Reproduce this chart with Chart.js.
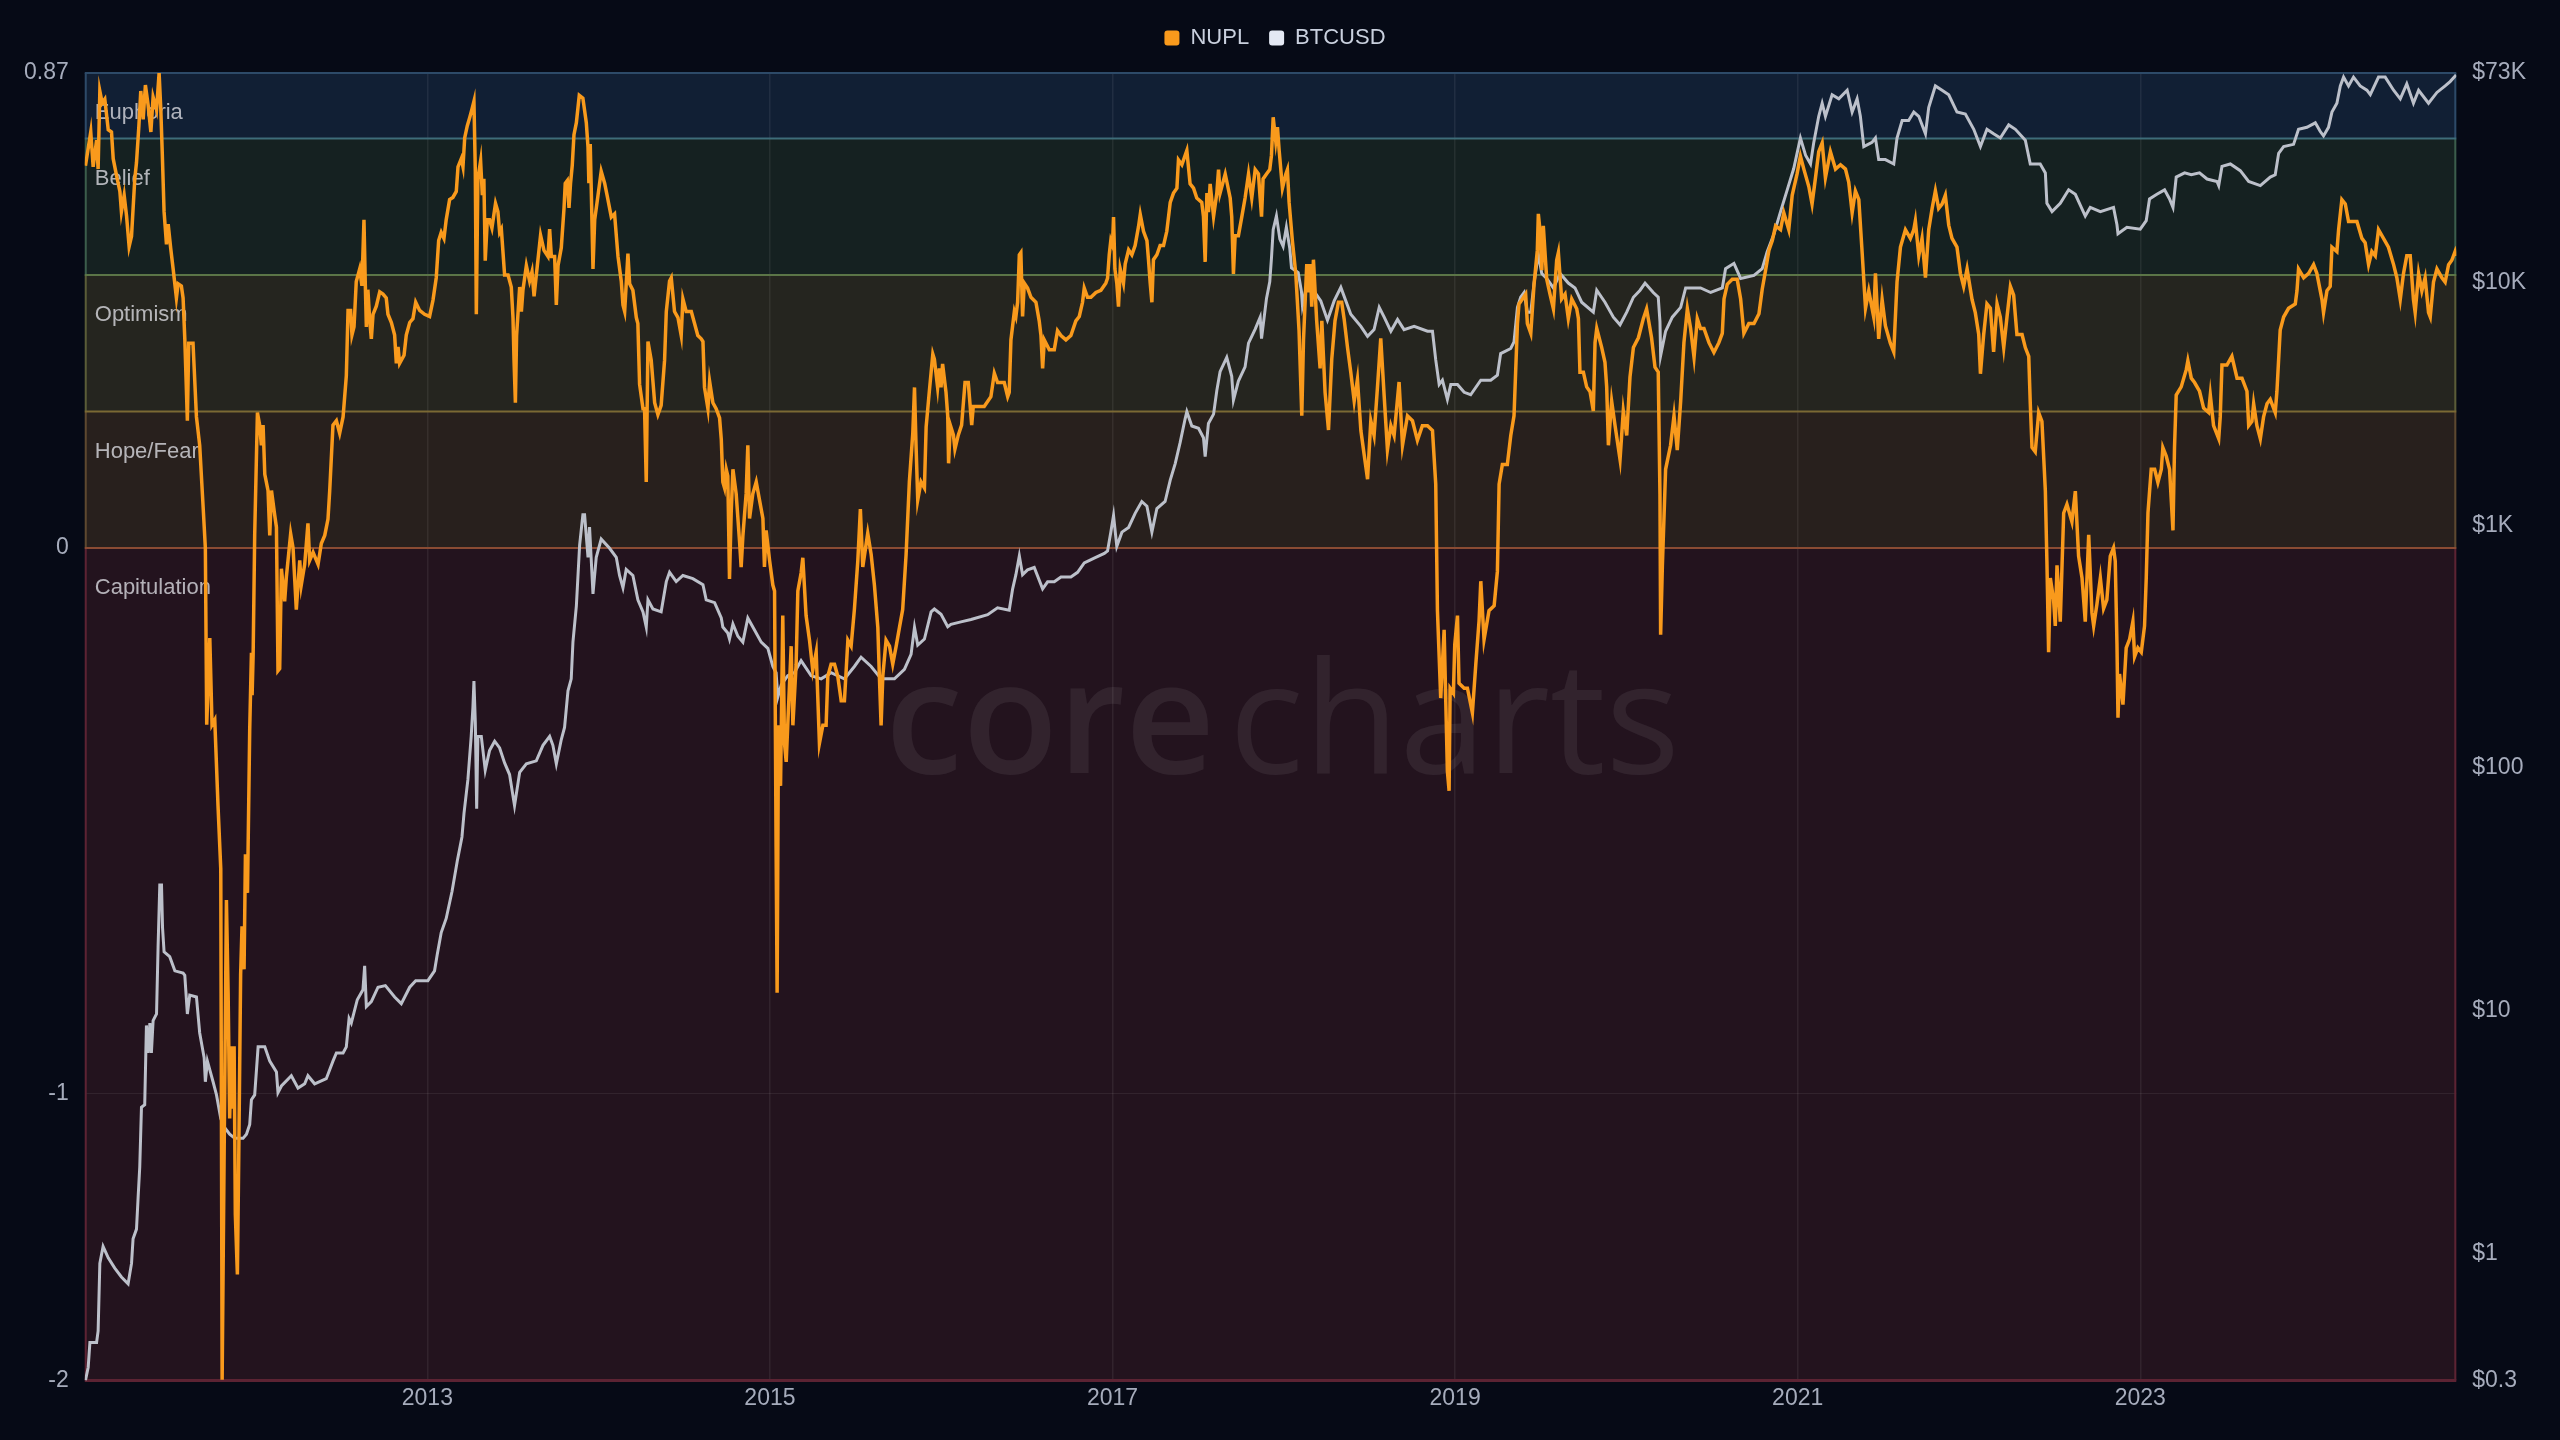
<!DOCTYPE html>
<html>
<head>
<meta charset="utf-8">
<title>NUPL vs BTCUSD</title>
<script src="https://cdn.jsdelivr.net/npm/chart.js@4.4.1/dist/chart.umd.min.js"></script>
<style>
  html, body { margin: 0; padding: 0; background: #060a16; }
  #wrap { width: 2560px; height: 1440px; }
</style>
</head>
<body>
<div id="wrap"><canvas id="nuplChart" width="2560" height="1440"></canvas></div>
<script>
// dates are decimal years
const nuplYears = [
  2011.004, 2011.035, 2011.049, 2011.069, 2011.078, 2011.088, 2011.102, 2011.117, 2011.137, 2011.156,
  2011.166, 2011.185, 2011.205, 2011.214, 2011.230, 2011.244, 2011.259, 2011.273, 2011.292, 2011.302,
  2011.316, 2011.327, 2011.341, 2011.354, 2011.370, 2011.386, 2011.399, 2011.419, 2011.434, 2011.444,
  2011.452, 2011.463, 2011.477, 2011.487, 2011.502, 2011.516, 2011.535, 2011.545, 2011.564, 2011.574,
  2011.584, 2011.599, 2011.607, 2011.632, 2011.652, 2011.671, 2011.691, 2011.704, 2011.712, 2011.730,
  2011.743, 2011.759, 2011.778, 2011.794, 2011.802, 2011.813, 2011.827, 2011.837, 2011.846, 2011.856,
  2011.866, 2011.872, 2011.879, 2011.891, 2011.899, 2011.910, 2011.918, 2011.930, 2011.938, 2011.950,
  2011.963, 2011.973, 2011.977, 2011.983, 2011.992, 2012.008, 2012.021, 2012.031, 2012.041, 2012.051,
  2012.070, 2012.080, 2012.090, 2012.109, 2012.119, 2012.128, 2012.138, 2012.148, 2012.167, 2012.177,
  2012.202, 2012.216, 2012.235, 2012.255, 2012.264, 2012.284, 2012.303, 2012.313, 2012.333, 2012.362,
  2012.381, 2012.401, 2012.420, 2012.430, 2012.449, 2012.469, 2012.488, 2012.508, 2012.527, 2012.537,
  2012.552, 2012.560, 2012.572, 2012.585, 2012.605, 2012.618, 2012.630, 2012.638, 2012.644, 2012.653,
  2012.663, 2012.673, 2012.683, 2012.702, 2012.722, 2012.741, 2012.760, 2012.770, 2012.790, 2012.809,
  2012.819, 2012.829, 2012.838, 2012.864, 2012.877, 2012.897, 2012.916, 2012.932, 2012.955, 2012.984,
  2013.013, 2013.033, 2013.052, 2013.066, 2013.081, 2013.097, 2013.110, 2013.130, 2013.149, 2013.169,
  2013.179, 2013.198, 2013.208, 2013.218, 2013.233, 2013.247, 2013.260, 2013.272, 2013.280, 2013.286,
  2013.295, 2013.311, 2013.321, 2013.330, 2013.338, 2013.350, 2013.363, 2013.377, 2013.398, 2013.412,
  2013.422, 2013.432, 2013.451, 2013.471, 2013.490, 2013.500, 2013.506, 2013.514, 2013.521, 2013.539,
  2013.549, 2013.558, 2013.578, 2013.597, 2013.611, 2013.623, 2013.642, 2013.661, 2013.681, 2013.704,
  2013.714, 2013.724, 2013.743, 2013.753, 2013.763, 2013.782, 2013.798, 2013.805, 2013.817, 2013.827,
  2013.836, 2013.846, 2013.856, 2013.870, 2013.887, 2013.908, 2013.928, 2013.938, 2013.943, 2013.951,
  2013.957, 2013.967, 2013.977, 2013.996, 2014.015, 2014.035, 2014.050, 2014.074, 2014.093, 2014.113,
  2014.132, 2014.142, 2014.152, 2014.171, 2014.181, 2014.200, 2014.220, 2014.229, 2014.239, 2014.259,
  2014.268, 2014.278, 2014.288, 2014.307, 2014.327, 2014.346, 2014.365, 2014.385, 2014.395, 2014.414,
  2014.424, 2014.443, 2014.463, 2014.482, 2014.492, 2014.511, 2014.541, 2014.560, 2014.579, 2014.599,
  2014.609, 2014.618, 2014.638, 2014.648, 2014.667, 2014.686, 2014.706, 2014.716, 2014.725, 2014.735,
  2014.745, 2014.754, 2014.764, 2014.774, 2014.784, 2014.803, 2014.823, 2014.832, 2014.842, 2014.861,
  2014.871, 2014.881, 2014.900, 2014.920, 2014.939, 2014.959, 2014.968, 2014.978, 2014.998, 2015.017,
  2015.027, 2015.036, 2015.042, 2015.050, 2015.062, 2015.075, 2015.085, 2015.095, 2015.104, 2015.124,
  2015.134, 2015.153, 2015.163, 2015.182, 2015.192, 2015.211, 2015.231, 2015.250, 2015.270, 2015.289,
  2015.309, 2015.328, 2015.338, 2015.357, 2015.377, 2015.396, 2015.416, 2015.435, 2015.455, 2015.474,
  2015.493, 2015.513, 2015.528, 2015.542, 2015.571, 2015.591, 2015.610, 2015.630, 2015.639, 2015.649,
  2015.659, 2015.678, 2015.698, 2015.717, 2015.737, 2015.756, 2015.775, 2015.795, 2015.814, 2015.834,
  2015.844, 2015.853, 2015.863, 2015.882, 2015.902, 2015.912, 2015.931, 2015.951, 2015.960, 2015.979,
  2015.989, 2015.999, 2016.008, 2016.028, 2016.038, 2016.043, 2016.053, 2016.071, 2016.080, 2016.100,
  2016.119, 2016.139, 2016.158, 2016.178, 2016.187, 2016.213, 2016.251, 2016.290, 2016.310, 2016.329,
  2016.368, 2016.388, 2016.397, 2016.407, 2016.427, 2016.436, 2016.446, 2016.456, 2016.465, 2016.475,
  2016.485, 2016.504, 2016.524, 2016.553, 2016.572, 2016.582, 2016.592, 2016.602, 2016.631, 2016.660,
  2016.679, 2016.699, 2016.728, 2016.757, 2016.786, 2016.806, 2016.825, 2016.835, 2016.854, 2016.874,
  2016.903, 2016.932, 2016.961, 2016.971, 2016.981, 2016.990, 2017.000, 2017.006, 2017.014, 2017.025,
  2017.035, 2017.045, 2017.064, 2017.074, 2017.094, 2017.113, 2017.132, 2017.152, 2017.162, 2017.181,
  2017.201, 2017.210, 2017.220, 2017.230, 2017.239, 2017.259, 2017.278, 2017.298, 2017.317, 2017.337,
  2017.356, 2017.376, 2017.385, 2017.405, 2017.424, 2017.434, 2017.453, 2017.473, 2017.492, 2017.521,
  2017.531, 2017.541, 2017.551, 2017.560, 2017.570, 2017.590, 2017.609, 2017.619, 2017.628, 2017.658,
  2017.687, 2017.696, 2017.706, 2017.716, 2017.735, 2017.755, 2017.774, 2017.794, 2017.813, 2017.833,
  2017.852, 2017.862, 2017.870, 2017.879, 2017.899, 2017.918, 2017.928, 2017.938, 2017.953, 2017.963,
  2017.973, 2017.992, 2018.012, 2018.021, 2018.031, 2018.050, 2018.070, 2018.089, 2018.105, 2018.115,
  2018.134, 2018.144, 2018.154, 2018.163, 2018.173, 2018.192, 2018.212, 2018.222, 2018.241, 2018.261,
  2018.280, 2018.299, 2018.319, 2018.338, 2018.352, 2018.372, 2018.391, 2018.411, 2018.430, 2018.450,
  2018.469, 2018.489, 2018.508, 2018.527, 2018.547, 2018.566, 2018.586, 2018.605, 2018.625, 2018.644,
  2018.673, 2018.693, 2018.722, 2018.751, 2018.780, 2018.809, 2018.839, 2018.868, 2018.887, 2018.897,
  2018.916, 2018.936, 2018.955, 2018.965, 2018.971, 2018.990, 2018.998, 2019.014, 2019.023, 2019.053,
  2019.072, 2019.101, 2019.121, 2019.140, 2019.150, 2019.169, 2019.198, 2019.228, 2019.247, 2019.257,
  2019.276, 2019.305, 2019.325, 2019.344, 2019.364, 2019.373, 2019.393, 2019.412, 2019.422, 2019.442,
  2019.461, 2019.480, 2019.486, 2019.496, 2019.506, 2019.515, 2019.535, 2019.554, 2019.574, 2019.593,
  2019.603, 2019.622, 2019.642, 2019.661, 2019.681, 2019.710, 2019.720, 2019.729, 2019.749, 2019.768,
  2019.788, 2019.807, 2019.817, 2019.827, 2019.856, 2019.875, 2019.885, 2019.895, 2019.914, 2019.934,
  2019.963, 2019.982, 2020.002, 2020.021, 2020.041, 2020.070, 2020.099, 2020.118, 2020.147, 2020.167,
  2020.186, 2020.196, 2020.200, 2020.210, 2020.229, 2020.258, 2020.278, 2020.297, 2020.317, 2020.336,
  2020.356, 2020.375, 2020.395, 2020.414, 2020.433, 2020.453, 2020.482, 2020.511, 2020.540, 2020.560,
  2020.570, 2020.589, 2020.618, 2020.647, 2020.667, 2020.686, 2020.715, 2020.745, 2020.774, 2020.793,
  2020.813, 2020.832, 2020.852, 2020.871, 2020.900, 2020.919, 2020.948, 2020.968, 2020.997, 2021.016,
  2021.036, 2021.065, 2021.084, 2021.104, 2021.123, 2021.143, 2021.162, 2021.191, 2021.221, 2021.250,
  2021.279, 2021.298, 2021.318, 2021.337, 2021.357, 2021.376, 2021.396, 2021.415, 2021.444, 2021.454,
  2021.473, 2021.493, 2021.512, 2021.541, 2021.561, 2021.580, 2021.600, 2021.629, 2021.658, 2021.678,
  2021.687, 2021.707, 2021.726, 2021.746, 2021.765, 2021.785, 2021.804, 2021.823, 2021.843, 2021.862,
  2021.882, 2021.901, 2021.930, 2021.950, 2021.969, 2021.989, 2022.018, 2022.037, 2022.057, 2022.067,
  2022.086, 2022.105, 2022.125, 2022.144, 2022.164, 2022.183, 2022.203, 2022.222, 2022.242, 2022.261,
  2022.280, 2022.310, 2022.329, 2022.349, 2022.358, 2022.368, 2022.387, 2022.407, 2022.426, 2022.446,
  2022.455, 2022.465, 2022.475, 2022.494, 2022.504, 2022.514, 2022.533, 2022.553, 2022.572, 2022.601,
  2022.621, 2022.640, 2022.660, 2022.679, 2022.699, 2022.718, 2022.728, 2022.747, 2022.767, 2022.786,
  2022.805, 2022.825, 2022.844, 2022.854, 2022.864, 2022.870, 2022.879, 2022.899, 2022.918, 2022.938,
  2022.957, 2022.967, 2022.986, 2023.006, 2023.025, 2023.035, 2023.045, 2023.064, 2023.084, 2023.103,
  2023.123, 2023.132, 2023.152, 2023.171, 2023.191, 2023.200, 2023.210, 2023.239, 2023.269, 2023.278,
  2023.298, 2023.317, 2023.346, 2023.370, 2023.399, 2023.409, 2023.428, 2023.458, 2023.467, 2023.477,
  2023.506, 2023.535, 2023.565, 2023.594, 2023.623, 2023.633, 2023.652, 2023.662, 2023.681, 2023.701,
  2023.720, 2023.740, 2023.759, 2023.788, 2023.798, 2023.817, 2023.837, 2023.866, 2023.905, 2023.915,
  2023.924, 2023.954, 2023.983, 2024.012, 2024.031, 2024.061, 2024.070, 2024.090, 2024.109, 2024.119,
  2024.148, 2024.158, 2024.177, 2024.197, 2024.216, 2024.236, 2024.265, 2024.294, 2024.313, 2024.333,
  2024.352, 2024.372, 2024.391, 2024.420, 2024.449, 2024.479, 2024.498, 2024.518, 2024.537, 2024.556,
  2024.576, 2024.595, 2024.605, 2024.625, 2024.644, 2024.663, 2024.683, 2024.693, 2024.712, 2024.732,
  2024.761, 2024.780, 2024.800, 2024.819, 2024.838, 2024.844
];
const nuplValues = [
  0.700, 0.762, 0.698, 0.747, 0.694, 0.837, 0.815, 0.822, 0.766, 0.762,
  0.713, 0.683, 0.653, 0.616, 0.646, 0.608, 0.552, 0.571, 0.676, 0.706,
  0.773, 0.837, 0.785, 0.848, 0.811, 0.762, 0.826, 0.803, 0.870, 0.803,
  0.728, 0.616, 0.556, 0.593, 0.548, 0.511, 0.458, 0.484, 0.480, 0.458,
  0.383, 0.233, 0.375, 0.375, 0.240, 0.188, 0.075, 0.000, -0.324, -0.165,
  -0.324, -0.315, -0.473, -0.588, -1.998, -1.253, -0.645, -0.816, -1.086, -0.913,
  -1.052, -0.913, -1.421, -1.630, -1.220, -0.781, -0.693, -0.772, -0.561, -0.632,
  -0.332, -0.192, -0.270, -0.195, 0.023, 0.248, 0.225, 0.188, 0.225, 0.135,
  0.105, 0.023, 0.105, 0.060, 0.038, -0.225, -0.221, -0.038, -0.098, -0.053,
  0.026, 0.000, -0.113, -0.023, -0.068, -0.030, 0.045, -0.023, -0.008, -0.030,
  0.008, 0.023, 0.053, 0.105, 0.225, 0.233, 0.210, 0.240, 0.315, 0.435,
  0.435, 0.390, 0.405, 0.488, 0.511, 0.480, 0.601, 0.480, 0.405, 0.473,
  0.420, 0.383, 0.428, 0.443, 0.469, 0.465, 0.458, 0.428, 0.413, 0.390,
  0.338, 0.368, 0.338, 0.353, 0.390, 0.413, 0.420, 0.450, 0.435, 0.428,
  0.424, 0.454, 0.495, 0.563, 0.578, 0.567, 0.601, 0.638, 0.642, 0.653,
  0.698, 0.713, 0.698, 0.751, 0.773, 0.788, 0.803, 0.818, 0.691, 0.428,
  0.676, 0.709, 0.646, 0.676, 0.526, 0.601, 0.601, 0.586, 0.631, 0.616,
  0.578, 0.584, 0.500, 0.500, 0.478, 0.422, 0.344, 0.266, 0.389, 0.478,
  0.433, 0.472, 0.517, 0.489, 0.506, 0.461, 0.517, 0.573, 0.545, 0.534,
  0.584, 0.534, 0.534, 0.445, 0.517, 0.550, 0.623, 0.668, 0.673, 0.623,
  0.668, 0.701, 0.757, 0.779, 0.829, 0.824, 0.779, 0.734, 0.668, 0.740,
  0.656, 0.511, 0.601, 0.645, 0.690, 0.668, 0.645, 0.606, 0.612, 0.534,
  0.489, 0.445, 0.433, 0.539, 0.484, 0.472, 0.422, 0.411, 0.300, 0.255,
  0.255, 0.121, 0.378, 0.344, 0.266, 0.244, 0.261, 0.344, 0.433, 0.489,
  0.495, 0.433, 0.422, 0.389, 0.456, 0.433, 0.433, 0.411, 0.389, 0.383,
  0.378, 0.294, 0.255, 0.305, 0.266, 0.255, 0.238, 0.199, 0.121, 0.110,
  0.144, 0.132, -0.057, 0.066, 0.144, 0.099, 0.010, -0.035, 0.021, 0.099,
  0.188, 0.054, 0.099, 0.121, 0.088, 0.054, -0.035, 0.032, -0.023, -0.068,
  -0.079, -0.548, -0.815, -0.325, -0.436, -0.124, -0.358, -0.392, -0.325, -0.180,
  -0.325, -0.213, -0.079, -0.046, -0.018, -0.124, -0.169, -0.224, -0.191, -0.358,
  -0.325, -0.325, -0.235, -0.213, -0.213, -0.235, -0.280, -0.280, -0.169, -0.180,
  -0.113, -0.024, 0.071, -0.035, 0.027, -0.012, -0.068, -0.146, -0.235, -0.325,
  -0.235, -0.169, -0.180, -0.213, -0.180, -0.146, -0.113, -0.012, 0.121, 0.210,
  0.294, 0.188, 0.088, 0.121, 0.110, 0.222, 0.288, 0.355, 0.346, 0.294,
  0.329, 0.294, 0.337, 0.285, 0.242, 0.155, 0.225, 0.207, 0.181, 0.207,
  0.225, 0.303, 0.303, 0.225, 0.259, 0.259, 0.259, 0.277, 0.320, 0.303,
  0.303, 0.277, 0.285, 0.381, 0.433, 0.424, 0.450, 0.537, 0.541, 0.424,
  0.485, 0.476, 0.459, 0.450, 0.416, 0.390, 0.329, 0.381, 0.363, 0.363,
  0.398, 0.389, 0.381, 0.389, 0.416, 0.424, 0.450, 0.476, 0.459, 0.459,
  0.468, 0.472, 0.485, 0.494, 0.537, 0.563, 0.554, 0.606, 0.511, 0.485,
  0.442, 0.511, 0.485, 0.520, 0.546, 0.537, 0.554, 0.589, 0.611, 0.580,
  0.563, 0.528, 0.485, 0.450, 0.528, 0.537, 0.554, 0.554, 0.580, 0.633,
  0.650, 0.659, 0.711, 0.702, 0.719, 0.728, 0.667, 0.659, 0.641, 0.633,
  0.607, 0.524, 0.650, 0.615, 0.667, 0.607, 0.650, 0.693, 0.650, 0.685,
  0.641, 0.607, 0.502, 0.572, 0.572, 0.607, 0.641, 0.685, 0.641, 0.693,
  0.685, 0.641, 0.607, 0.676, 0.685, 0.693, 0.719, 0.789, 0.745, 0.771,
  0.728, 0.659, 0.685, 0.693, 0.633, 0.563, 0.502, 0.398, 0.242, 0.381,
  0.520, 0.468, 0.520, 0.442, 0.528, 0.416, 0.329, 0.416, 0.285, 0.216,
  0.346, 0.416, 0.450, 0.450, 0.420, 0.367, 0.322, 0.269, 0.309, 0.215,
  0.171, 0.126, 0.233, 0.206, 0.295, 0.384, 0.278, 0.180, 0.224, 0.206,
  0.304, 0.188, 0.242, 0.233, 0.197, 0.224, 0.224, 0.215, 0.117, -0.115,
  -0.275, -0.150, -0.409, -0.445, -0.257, -0.266, -0.177, -0.124, -0.248, -0.257,
  -0.257, -0.302, -0.213, -0.133, -0.061, -0.168, -0.115, -0.106, -0.043, 0.117,
  0.153, 0.153, 0.206, 0.242, 0.411, 0.447, 0.456, 0.465, 0.411, 0.393,
  0.483, 0.545, 0.612, 0.581, 0.509, 0.590, 0.492, 0.465, 0.438, 0.527,
  0.541, 0.456, 0.465, 0.420, 0.456, 0.438, 0.420, 0.322, 0.322, 0.295,
  0.286, 0.251, 0.376, 0.402, 0.367, 0.340, 0.295, 0.188, 0.269, 0.224,
  0.162, 0.251, 0.206, 0.313, 0.367, 0.385, 0.420, 0.438, 0.385, 0.331,
  0.322, 0.099, -0.159, -0.034, 0.144, 0.188, 0.242, 0.179, 0.269, 0.376,
  0.438, 0.402, 0.349, 0.420, 0.402, 0.402, 0.376, 0.358, 0.376, 0.393,
  0.456, 0.483, 0.492, 0.492, 0.456, 0.393, 0.411, 0.411, 0.429, 0.474,
  0.509, 0.545, 0.563, 0.590, 0.583, 0.614, 0.583, 0.646, 0.686, 0.718,
  0.694, 0.662, 0.630, 0.678, 0.726, 0.742, 0.678, 0.726, 0.694, 0.702,
  0.694, 0.670, 0.614, 0.654, 0.638, 0.543, 0.439, 0.471, 0.423, 0.503,
  0.383, 0.455, 0.407, 0.375, 0.359, 0.487, 0.551, 0.583, 0.567, 0.583,
  0.599, 0.535, 0.567, 0.495, 0.583, 0.622, 0.654, 0.622, 0.630, 0.646,
  0.591, 0.567, 0.551, 0.503, 0.479, 0.511, 0.455, 0.431, 0.391, 0.319,
  0.391, 0.447, 0.439, 0.359, 0.447, 0.423, 0.367, 0.423, 0.479, 0.463,
  0.391, 0.391, 0.367, 0.351, 0.264, 0.184, 0.176, 0.248, 0.232, 0.104,
  -0.024, -0.191, -0.055, -0.095, -0.143, -0.032, -0.135, 0.064, 0.080, 0.048,
  0.104, -0.015, -0.055, -0.135, 0.024, -0.119, -0.143, -0.103, -0.055, -0.111,
  -0.095, -0.015, 0.000, -0.024, -0.175, -0.311, -0.231, -0.287, -0.183, -0.167,
  -0.135, -0.199, -0.183, -0.191, -0.143, -0.055, 0.064, 0.144, 0.144, 0.120,
  0.144, 0.184, 0.168, 0.144, 0.032, 0.184, 0.280, 0.295, 0.327, 0.343,
  0.311, 0.303, 0.287, 0.256, 0.248, 0.280, 0.224, 0.200, 0.240, 0.335,
  0.335, 0.351, 0.311, 0.311, 0.287, 0.224, 0.232, 0.264, 0.224, 0.200,
  0.240, 0.264, 0.272, 0.248, 0.287, 0.399, 0.423, 0.439, 0.447, 0.471,
  0.511, 0.495, 0.503, 0.519, 0.503, 0.455, 0.431, 0.471, 0.479, 0.551,
  0.543, 0.583, 0.638, 0.630, 0.598, 0.598, 0.598, 0.567, 0.559, 0.519,
  0.543, 0.535, 0.583, 0.567, 0.551, 0.519, 0.495, 0.455, 0.503, 0.535,
  0.535, 0.455, 0.431, 0.503, 0.471, 0.495, 0.431, 0.423, 0.487, 0.511,
  0.495, 0.487, 0.519, 0.527, 0.543, 0.535
];

const btcYears = [
  2011.004, 2011.020, 2011.030, 2011.069, 2011.078, 2011.088, 2011.107, 2011.137, 2011.175, 2011.214,
  2011.253, 2011.273, 2011.282, 2011.302, 2011.312, 2011.321, 2011.331, 2011.350, 2011.360, 2011.370,
  2011.380, 2011.389, 2011.399, 2011.419, 2011.428, 2011.438, 2011.448, 2011.454, 2011.463, 2011.496,
  2011.526, 2011.574, 2011.584, 2011.599, 2011.613, 2011.652, 2011.671, 2011.697, 2011.704, 2011.716,
  2011.749, 2011.769, 2011.794, 2011.817, 2011.846, 2011.876, 2011.924, 2011.944, 2011.963, 2011.973,
  2011.992, 2012.012, 2012.051, 2012.080, 2012.119, 2012.128, 2012.148, 2012.206, 2012.245, 2012.284,
  2012.303, 2012.342, 2012.410, 2012.449, 2012.469, 2012.508, 2012.527, 2012.543, 2012.556, 2012.591,
  2012.624, 2012.634, 2012.644, 2012.673, 2012.712, 2012.755, 2012.809, 2012.848, 2012.897, 2012.932,
  2013.003, 2013.042, 2013.058, 2013.081, 2013.110, 2013.144, 2013.175, 2013.202, 2013.214, 2013.237,
  2013.256, 2013.266, 2013.272, 2013.280, 2013.288, 2013.295, 2013.315, 2013.338, 2013.363, 2013.393,
  2013.422, 2013.451, 2013.480, 2013.509, 2013.539, 2013.578, 2013.636, 2013.675, 2013.714, 2013.733,
  2013.753, 2013.782, 2013.801, 2013.821, 2013.840, 2013.850, 2013.870, 2013.889, 2013.908, 2013.918,
  2013.938, 2013.947, 2013.967, 2013.986, 2014.015, 2014.064, 2014.103, 2014.122, 2014.142, 2014.161,
  2014.200, 2014.229, 2014.259, 2014.278, 2014.288, 2014.317, 2014.365, 2014.395, 2014.414, 2014.453,
  2014.492, 2014.550, 2014.609, 2014.628, 2014.677, 2014.716, 2014.725, 2014.754, 2014.764, 2014.784,
  2014.813, 2014.842, 2014.871, 2014.910, 2014.949, 2014.988, 2015.017, 2015.036, 2015.046, 2015.066,
  2015.104, 2015.143, 2015.182, 2015.241, 2015.299, 2015.357, 2015.435, 2015.493, 2015.532, 2015.591,
  2015.649, 2015.727, 2015.785, 2015.824, 2015.844, 2015.863, 2015.902, 2015.941, 2015.960, 2015.999,
  2016.038, 2016.057, 2016.115, 2016.174, 2016.271, 2016.329, 2016.397, 2016.417, 2016.436, 2016.456,
  2016.475, 2016.504, 2016.543, 2016.592, 2016.621, 2016.660, 2016.699, 2016.757, 2016.796, 2016.835,
  2016.893, 2016.952, 2016.971, 2016.990, 2017.006, 2017.025, 2017.055, 2017.094, 2017.132, 2017.171,
  2017.201, 2017.230, 2017.259, 2017.307, 2017.337, 2017.366, 2017.395, 2017.424, 2017.434, 2017.463,
  2017.502, 2017.531, 2017.541, 2017.560, 2017.590, 2017.609, 2017.628, 2017.667, 2017.696, 2017.706,
  2017.735, 2017.774, 2017.794, 2017.833, 2017.862, 2017.870, 2017.899, 2017.918, 2017.928, 2017.938,
  2017.957, 2017.977, 2017.996, 2018.015, 2018.035, 2018.045, 2018.084, 2018.103, 2018.109, 2018.138,
  2018.177, 2018.216, 2018.255, 2018.294, 2018.333, 2018.391, 2018.450, 2018.489, 2018.527, 2018.557,
  2018.586, 2018.625, 2018.664, 2018.702, 2018.761, 2018.839, 2018.868, 2018.887, 2018.907, 2018.926,
  2018.955, 2018.975, 2019.014, 2019.053, 2019.091, 2019.150, 2019.208, 2019.247, 2019.266, 2019.325,
  2019.344, 2019.364, 2019.383, 2019.403, 2019.422, 2019.442, 2019.461, 2019.486, 2019.506, 2019.535,
  2019.574, 2019.613, 2019.661, 2019.700, 2019.739, 2019.807, 2019.827, 2019.875, 2019.924, 2019.963,
  2020.002, 2020.041, 2020.080, 2020.109, 2020.157, 2020.186, 2020.196, 2020.200, 2020.229, 2020.268,
  2020.317, 2020.346, 2020.395, 2020.433, 2020.492, 2020.560, 2020.579, 2020.628, 2020.667, 2020.745,
  2020.793, 2020.822, 2020.861, 2020.900, 2020.939, 2020.977, 2021.016, 2021.046, 2021.075, 2021.094,
  2021.123, 2021.143, 2021.162, 2021.201, 2021.240, 2021.289, 2021.318, 2021.347, 2021.366, 2021.386,
  2021.434, 2021.454, 2021.473, 2021.512, 2021.561, 2021.580, 2021.610, 2021.648, 2021.678, 2021.707,
  2021.746, 2021.765, 2021.804, 2021.843, 2021.882, 2021.930, 2021.979, 2022.028, 2022.067, 2022.105,
  2022.144, 2022.183, 2022.232, 2022.271, 2022.329, 2022.358, 2022.416, 2022.446, 2022.455, 2022.485,
  2022.533, 2022.582, 2022.621, 2022.679, 2022.708, 2022.767, 2022.844, 2022.864, 2022.870, 2022.922,
  2023.000, 2023.035, 2023.054, 2023.097, 2023.142, 2023.171, 2023.191, 2023.210, 2023.259, 2023.298,
  2023.346, 2023.390, 2023.448, 2023.458, 2023.477, 2023.526, 2023.584, 2023.633, 2023.701, 2023.759,
  2023.788, 2023.808, 2023.837, 2023.895, 2023.924, 2023.973, 2024.022, 2024.051, 2024.070, 2024.099,
  2024.119, 2024.148, 2024.168, 2024.187, 2024.216, 2024.245, 2024.284, 2024.323, 2024.343, 2024.391,
  2024.430, 2024.479, 2024.518, 2024.556, 2024.595, 2024.625, 2024.683, 2024.732, 2024.780, 2024.809,
  2024.844
];
const btcPrices = [
  0.30, 0.34, 0.43, 0.43, 0.48, 0.91, 1.07, 0.96, 0.87, 0.80,
  0.75, 0.91, 1.15, 1.26, 1.73, 2.27, 4.0, 4.1, 8.7, 6.7,
  8.9, 6.7, 9.1, 9.7, 18.3, 33, 33, 22, 17.5, 16.7,
  14.6, 14.3, 14.0, 9.7, 11.6, 11.4, 8.1, 6.4, 5.1, 6.2,
  5.1, 4.5, 3.6, 3.3, 3.1, 2.98, 2.98, 3.1, 3.4, 4.3,
  4.5, 7.1, 7.1, 6.2, 5.6, 4.6, 4.9, 5.4, 4.8, 5.0,
  5.4, 5.0, 5.25, 6.2, 6.7, 6.7, 7.1, 9.3, 8.9, 11.1,
  12.2, 15.3, 10.4, 10.9, 12.5, 12.7, 11.4, 10.7, 12.5, 13.3,
  13.3, 14.6, 17.1, 21, 24, 31, 41.5, 52, 65, 90,
  135, 178, 228, 155, 68, 135, 135, 98, 118, 129,
  121, 105, 94, 70, 96, 104, 107, 124, 135, 124,
  104, 131, 147, 208, 233, 330, 466, 828, 1104, 1104,
  738, 984, 522, 738, 877, 804, 738, 621, 553, 658,
  621, 493, 440, 381, 493, 452, 440, 586, 640, 586,
  621, 603, 569, 493, 480, 415, 381, 360, 340, 392,
  349, 330, 415, 370, 330, 311, 262, 247, 196, 220,
  240, 247, 277, 240, 233, 247, 233, 262, 286, 262,
  233, 233, 255, 294, 380, 321, 340, 440, 452, 430,
  382, 391, 400, 409, 428, 457, 447, 547, 626, 748,
  626, 655, 670, 547, 585, 585, 612, 612, 640, 700,
  733, 766, 784, 937, 1097, 819, 937, 980, 1120, 1253,
  1198, 937, 1172, 1253, 1535, 1795, 2195, 2746, 2938, 2566,
  2510, 2295, 1919, 2626, 2871, 3591, 4295, 4918, 4110, 3280,
  3929, 4495, 5628, 6433, 7198, 5876, 8604, 10070, 12600, 16500,
  18800, 15100, 14100, 16900, 13800, 11500, 11000, 9200, 8050, 10070,
  9200, 8400, 7000, 8400, 9550, 7400, 6600, 6000, 6400, 7900,
  7200, 6300, 7050, 6400, 6600, 6300, 6300, 4800, 3800, 3960,
  3300, 3800, 3800, 3530, 3450, 3960, 3960, 4150, 5100, 5350,
  5700, 7900, 8700, 9100, 7550, 7550, 9950, 13100, 10900, 10400,
  9500, 10900, 9950, 9500, 8300, 7550, 9300, 8300, 7200, 6700,
  7550, 8700, 9300, 9950, 9100, 8700, 6900, 5000, 6300, 7200,
  7900, 9500, 9500, 9500, 9100, 9500, 11400, 12000, 10400, 10700,
  11400, 13400, 15800, 19600, 24100, 29500, 39400, 33500, 30800, 37800,
  48400, 54800, 48400, 59400, 57100, 62000, 50400, 57100, 48400, 36300,
  37800, 39400, 32100, 32100, 30800, 39400, 46500, 46500, 50400, 48400,
  41000, 52600, 64600, 62000, 59400, 50400, 49500, 42800, 36300, 42800,
  41000, 39400, 44600, 42800, 38600, 30800, 30800, 28300, 21200, 19600,
  21200, 24100, 23100, 18800, 20400, 19600, 20400, 17300, 15900, 16900,
  16600, 18000, 22100, 23100, 24100, 22100, 20400, 27200, 28300, 27800,
  28300, 26700, 26100, 25100, 30100, 30800, 28900, 26100, 25100, 27200,
  27800, 34100, 36300, 37100, 42800, 43600, 45500, 41900, 40200, 43600,
  50400, 54800, 64600, 70200, 64600, 70200, 64600, 62000, 59400, 70200,
  70200, 62000, 57100, 65900, 54800, 62000, 54800, 60700, 64600, 67300,
  71600
];

const zoneNames = ['Euphoria', 'Belief', 'Optimism', 'Hope/Fear', 'Capitulation'];
const zoneLevels = [0.87, 0.75, 0.5, 0.25, 0, -2];
const nuplTicks = [-2, -1, 0, 0.87];
const priceTicks = [0.3, 1, 10, 100, 1000, 10000, 73000];
const yearTicks = [2013, 2015, 2017, 2019, 2021, 2023];
const xStart = 2011.0;
const xEnd = 2024.845;

const FONT = 'Helvetica, Arial, "Liberation Sans", sans-serif';
const zoneFill = ['#111f34', '#152121', '#25251f', '#28201d', '#23131e'];
const zoneEdge = ['#2d4a68', '#3b5d4c', '#5a5c38', '#5d4830', '#5c2333'];
const levelLine = ['#2d4a68', '#3e6c79', '#5b7547', '#7b6934', '#8a4b33', '#5c2333'];

// NUPL axis: linear above -1, squeezed below it
const NUPL_BREAK = -1;
const NUPL_SQUEEZE = 0.525;
function warpNupl(v) {
  return v >= NUPL_BREAK ? v : NUPL_BREAK + (v - NUPL_BREAK) * NUPL_SQUEEZE;
}
function unwarpNupl(w) {
  return w >= NUPL_BREAK ? w : NUPL_BREAK + (w - NUPL_BREAK) / NUPL_SQUEEZE;
}
class NuplScale extends Chart.LinearScale {
  determineDataLimits() {
    super.determineDataLimits();
    this.min = warpNupl(this.min);
    this.max = warpNupl(this.max);
  }
  getPixelForValue(value) {
    return super.getPixelForValue(warpNupl(value));
  }
  getValueForPixel(pixel) {
    return unwarpNupl(super.getValueForPixel(pixel));
  }
}
NuplScale.id = 'nupl';
NuplScale.defaults = Chart.LinearScale.defaults;
Chart.register(NuplScale);

const legendSpace = {
  id: 'legendSpace',
  beforeInit(chart) {
    const fit = chart.legend.fit;
    chart.legend.fit = function () {
      fit.call(this);
      this.height = 66;
    };
  }
};

const zones = {
  id: 'zones',
  beforeDraw(chart) {
    const { ctx, chartArea: a } = chart;
    const y = chart.scales.y;
    ctx.save();
    ctx.fillStyle = '#060a16';
    ctx.fillRect(0, 0, chart.width, chart.height);
    zoneNames.forEach((name, i) => {
      const top = y.getPixelForValue(zoneLevels[i]);
      const bottom = y.getPixelForValue(zoneLevels[i + 1]);
      ctx.fillStyle = zoneFill[i];
      ctx.fillRect(a.left, top, a.right - a.left, bottom - top);
    });
    ctx.restore();
  },
  beforeDatasetsDraw(chart) {
    const { ctx, chartArea: a } = chart;
    const y = chart.scales.y;
    ctx.save();

    // watermark
    const cx = (a.left + a.right) / 2 + 12;
    const cy = (a.top + a.bottom) / 2 + 46;
    const f1 = '600 156px "Open Sans", sans-serif';
    const f2 = '400 156px "Open Sans", sans-serif';
    ctx.font = f1;
    const w1 = ctx.measureText('core').width;
    ctx.font = f2;
    const w2 = ctx.measureText('charts').width;
    const gap = 14;
    const x0 = cx - (w1 + gap + w2) / 2;
    ctx.fillStyle = 'rgba(255, 255, 255, 0.07)';
    ctx.textBaseline = 'alphabetic';
    ctx.font = f1;
    ctx.fillText('core', x0, cy);
    ctx.font = f2;
    ctx.fillText('charts', x0 + w1 + gap, cy);

    // zone edges and boundaries
    ctx.lineWidth = 2;
    zoneNames.forEach((name, i) => {
      const top = y.getPixelForValue(zoneLevels[i]);
      const bottom = y.getPixelForValue(zoneLevels[i + 1]);
      ctx.strokeStyle = zoneEdge[i];
      ctx.beginPath();
      ctx.moveTo(a.left + 1, top);
      ctx.lineTo(a.left + 1, bottom);
      ctx.moveTo(a.right - 1, top);
      ctx.lineTo(a.right - 1, bottom);
      ctx.stroke();
    });
    zoneLevels.forEach((lvl, i) => {
      const py = y.getPixelForValue(lvl);
      ctx.strokeStyle = levelLine[i];
      ctx.lineWidth = i === zoneLevels.length - 1 ? 3 : 2;
      ctx.beginPath();
      ctx.moveTo(a.left, py);
      ctx.lineTo(a.right, py);
      ctx.stroke();
    });

    // zone names
    ctx.font = '22px ' + FONT;
    ctx.fillStyle = 'rgba(222, 222, 228, 0.78)';
    ctx.textBaseline = 'middle';
    zoneNames.forEach((name, i) => {
      ctx.fillText(name, a.left + 10, y.getPixelForValue(zoneLevels[i]) + 40);
    });
    ctx.restore();
  }
};

const tickColor = '#a6acbc';
const tickFont = { family: FONT, size: 23 };

function formatPrice(v) {
  if (v >= 1000) return '$' + Math.round(v / 1000) + 'K';
  return '$' + v;
}

new Chart(document.getElementById('nuplChart').getContext('2d'), {
  type: 'line',
  data: {
    datasets: [
      {
        label: 'NUPL',
        data: nuplYears.map((x, i) => ({ x: x, y: nuplValues[i] })),
        yAxisID: 'y',
        borderColor: '#f99a1c',
        backgroundColor: '#f99a1c',
        borderWidth: 3.5,
        pointRadius: 0,
        tension: 0
      },
      {
        label: 'BTCUSD',
        data: btcYears.map((x, i) => ({ x: x, y: btcPrices[i] })),
        yAxisID: 'y1',
        borderColor: '#bcc0ca',
        backgroundColor: '#e4e9f4',
        borderWidth: 3,
        pointRadius: 0,
        tension: 0
      }
    ]
  },
  options: {
    responsive: false,
    animation: false,
    layout: { padding: { top: 7, left: 8, right: 18, bottom: 24 } },
    scales: {
      x: {
        type: 'linear',
        min: xStart,
        max: xEnd,
        bounds: 'data',
        afterBuildTicks: axis => { axis.ticks = yearTicks.map(v => ({ value: v })); },
        ticks: {
          callback: v => String(v),
          color: tickColor,
          font: tickFont,
          padding: 4,
          maxRotation: 0,
          autoSkip: false
        },
        grid: { color: 'rgba(255, 255, 255, 0.07)', lineWidth: 1.5, drawTicks: false },
        border: { display: false }
      },
      y: {
        type: 'nupl',
        position: 'left',
        min: -2,
        max: 0.87,
        bounds: 'data',
        afterBuildTicks: axis => { axis.ticks = nuplTicks.map(v => ({ value: v })); },
        ticks: {
          callback: v => String(v),
          color: tickColor,
          font: tickFont,
          padding: 16,
          autoSkip: false
        },
        grid: {
          color: c => (c.tick && c.tick.value === -1 ? 'rgba(255, 255, 255, 0.07)' : 'rgba(0, 0, 0, 0)'),
          drawTicks: false
        },
        border: { display: false }
      },
      y1: {
        type: 'logarithmic',
        position: 'right',
        min: 0.3,
        max: 73000,
        afterBuildTicks: axis => { axis.ticks = priceTicks.map(v => ({ value: v })); },
        ticks: {
          callback: formatPrice,
          color: tickColor,
          font: tickFont,
          padding: 16,
          autoSkip: false
        },
        grid: { display: false, drawTicks: false },
        border: { display: false }
      }
    },
    plugins: {
      legend: {
        position: 'top',
        labels: {
          color: '#c9d0de',
          font: { family: FONT, size: 22 },
          boxWidth: 15,
          boxHeight: 15,
          padding: 20,
          useBorderRadius: true,
          borderRadius: 3,
          generateLabels: chart => chart.data.datasets.map((ds, i) => ({
            text: ds.label,
            fillStyle: ds.backgroundColor,
            strokeStyle: ds.backgroundColor,
            lineWidth: 0,
            fontColor: '#c9d0de',
            borderRadius: 3,
            hidden: false,
            datasetIndex: i
          }))
        }
      },
      tooltip: { enabled: false }
    }
  },
  plugins: [legendSpace, zones]
});
</script>
</body>
</html>
